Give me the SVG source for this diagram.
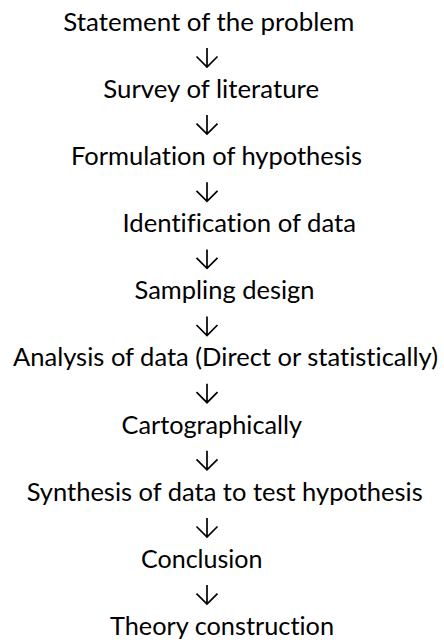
<svg xmlns="http://www.w3.org/2000/svg" width="444" height="642" viewBox="0 0 444 642">
  <style>
    .step { font-family: Lato, "Open Sans", "Liberation Sans", sans-serif; font-size: 24.8px; fill: #000; font-variant-ligatures: none; font-feature-settings: "liga" 0, "clig" 0; }
    .arrow { fill: none; stroke: #000; stroke-width: 1.7; stroke-linejoin: miter; }
  </style>
  <defs>
    <!-- downward arrow: stem plus open V head, tip at (0,0) -->
    <path id="down" d="M0,-19 V0 M-10.5,-10.5 L0,0 L10.5,-10.5"/>
  </defs>
  <rect width="444" height="642" fill="#fff"/>

  <g id="connectors" class="arrow">
    <use href="#down" x="207" y="67"/>
    <use href="#down" x="207" y="134.1"/>
    <use href="#down" x="207" y="201.3"/>
    <use href="#down" x="207" y="268.4"/>
    <use href="#down" x="207" y="335.5"/>
    <use href="#down" x="207" y="402.7"/>
    <use href="#down" x="207" y="469.8"/>
    <use href="#down" x="207" y="537"/>
    <use href="#down" x="207" y="604.1"/>
  </g>

  <g id="statement"><text class="step" x="63.3" y="30.7" textLength="291" lengthAdjust="spacingAndGlyphs">Statement of the problem</text></g>
  <g id="survey"><text class="step" x="103.3" y="97.8" textLength="215.8" lengthAdjust="spacingAndGlyphs">Survey of literature</text></g>
  <g id="formulation"><text class="step" x="71" y="165" textLength="291" lengthAdjust="spacingAndGlyphs">Formulation of hypothesis</text></g>
  <g id="identification"><text class="step" x="122.5" y="232.1" textLength="233.5" lengthAdjust="spacingAndGlyphs">Identification of data</text></g>
  <g id="sampling"><text class="step" x="134.5" y="299.3" textLength="180" lengthAdjust="spacingAndGlyphs">Sampling design</text></g>
  <g id="analysis"><text class="step" x="13" y="366.4" textLength="425" lengthAdjust="spacingAndGlyphs">Analysis of data (Direct or statistically)</text></g>
  <g id="cartographically"><text class="step" x="121.5" y="433.5" textLength="180.5" lengthAdjust="spacingAndGlyphs">Cartographically</text></g>
  <g id="synthesis"><text class="step" x="26.7" y="500.7" textLength="396" lengthAdjust="spacingAndGlyphs">Synthesis of data to test hypothesis</text></g>
  <g id="conclusion"><text class="step" x="141" y="567.8" textLength="121.5" lengthAdjust="spacingAndGlyphs">Conclusion</text></g>
  <g id="theory"><text class="step" x="110" y="635" textLength="224" lengthAdjust="spacingAndGlyphs">Theory construction</text></g>
</svg>
